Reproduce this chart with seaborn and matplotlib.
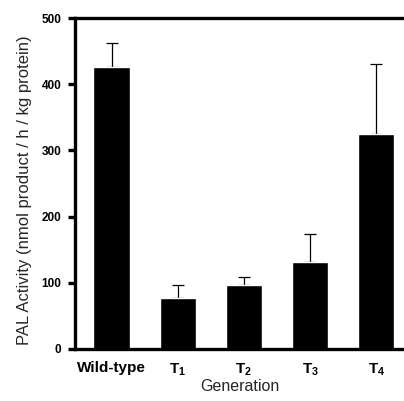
import matplotlib
matplotlib.use('Agg')
import matplotlib.pyplot as plt
import seaborn as sns
import pandas as pd

# values
generations = ['Wild-type', r'$\mathbf{T_1}$', r'$\mathbf{T_2}$', r'$\mathbf{T_3}$', r'$\mathbf{T_4}$']
pal_activity = [426, 77, 97, 132, 324]
pal_error = [37, 19, 12, 41, 107]
y_ticks = [0, 100, 200, 300, 400, 500]

sns.set_style('ticks')
plt.rcParams['font.family'] = ['Liberation Sans', 'DejaVu Sans']
plt.rcParams['mathtext.fontset'] = 'custom'
plt.rcParams['mathtext.bf'] = 'Liberation Sans:bold'
plt.rcParams['mathtext.rm'] = 'Liberation Sans'

df = pd.DataFrame({'generation': generations, 'activity': pal_activity, 'err': pal_error})

fig = plt.figure(figsize=(4.04, 4.01), dpi=100)
ax = fig.add_axes([0.186, 0.130, 0.814, 0.825])

sns.barplot(data=df, x='generation', y='activity', color='black', width=0.55,
            errorbar=None, saturation=1, ax=ax, zorder=2)

# upper error bars only, drawn behind the bars so the lower cap is hidden
ax.errorbar(range(len(df)), df['activity'], yerr=[[0] * len(df), df['err']],
            fmt='none', ecolor='black', elinewidth=0.9, capsize=4, capthick=0.9, zorder=1)

ax.set_ylim(0, 500)
ax.set_xlim(-0.55, 4.42)
ax.set_yticks(y_ticks)
ax.set_yticklabels([str(t) for t in y_ticks], fontsize=8.5, fontweight='bold')
ax.set_xticks(range(len(df)))
ax.set_xticklabels(generations, fontsize=11, fontweight='bold')

ax.set_xlabel('Generation', fontsize=11.5, labelpad=1)
ax.set_ylabel('PAL Activity (nmol product / h / kg protein)', fontsize=12)
ax.yaxis.set_label_coords(-0.132, 0.48)

for side in ['left', 'bottom', 'top']:
    ax.spines[side].set_linewidth(2.4)
    ax.spines[side].set_color('black')
ax.spines['right'].set_visible(False)
ax.spines['top'].set_visible(True)

ax.tick_params(axis='y', length=5, width=2.4, pad=5, colors='black')
ax.tick_params(axis='x', length=0, pad=9, colors='black')

fig.savefig('out.png', dpi=100)
